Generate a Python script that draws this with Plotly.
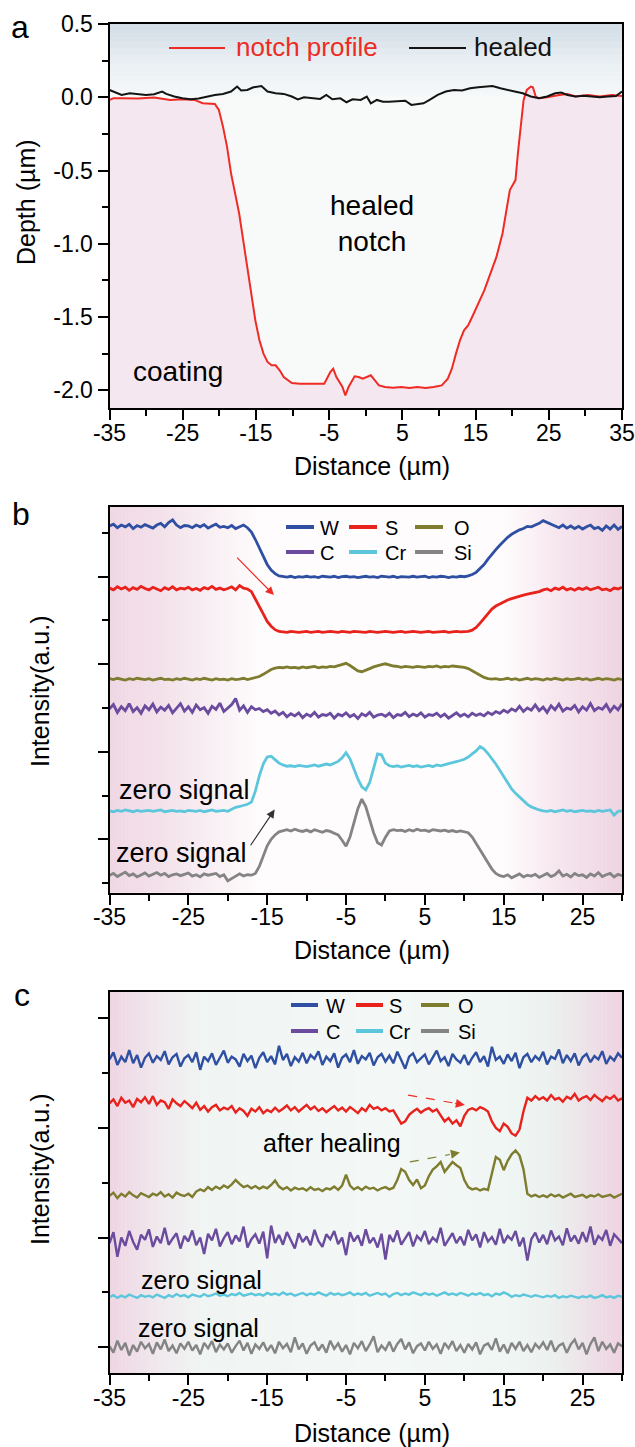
import plotly.graph_objects as go

FONT = "Liberation Sans, Arial, Helvetica, sans-serif"

# ======================= DATA =======================
# Panel a : depth profiles (Distance in um, Depth in um)
NOTCH_X = [-35.0, -34.45, -33.34, -31.13, -28.91, -26.70, -25.04, -23.38, -22.27, -20.61,
           -20.06, -19.50, -18.95, -18.40, -17.84, -17.29, -16.74, -16.18, -15.63, -15.08,
           -14.52, -13.97, -13.42, -12.86, -12.31, -11.76, -11.20, -10.10, -8.99, -7.88,
           -6.78, -5.67, -4.84, -4.45, -4.01, -3.18, -2.79, -2.35, -1.52, -0.97,
           -0.41, 0.14, 0.69, 1.25, 1.80, 2.63, 3.74, 4.85, 5.95, 7.06,
           8.17, 9.27, 10.38, 11.21, 11.76, 12.32, 12.87, 13.42, 13.98, 14.53,
           15.36, 16.19, 17.02, 17.85, 18.68, 19.23, 19.68, 20.07, 20.45, 20.78,
           21.17, 21.56, 22.00, 22.55, 22.83, 23.22, 23.66, 24.77, 26.43, 27.54,
           28.65, 30.31, 31.97, 33.62, 35.0]
NOTCH_Y = [-0.018, -0.007, -0.007, -0.009, -0.002, -0.018, -0.014, -0.018, -0.041, -0.046,
           -0.087, -0.200, -0.337, -0.519, -0.656, -0.793, -0.975, -1.157, -1.339, -1.522,
           -1.658, -1.749, -1.806, -1.829, -1.829, -1.863, -1.909, -1.950, -1.954, -1.954,
           -1.954, -1.954, -1.875, -1.852, -1.909, -1.977, -2.034, -1.977, -1.904, -1.909,
           -1.920, -1.909, -1.897, -1.932, -1.966, -1.977, -1.982, -1.977, -1.984, -1.977,
           -1.984, -1.977, -1.966, -1.920, -1.852, -1.749, -1.658, -1.590, -1.556, -1.499,
           -1.408, -1.317, -1.203, -1.089, -0.929, -0.770, -0.633, -0.599, -0.565, -0.383,
           -0.200, -0.018, 0.050, 0.073, 0.068, 0.005, -0.007, 0.0, 0.016, 0.023,
           0.005, 0.016, 0.005, 0.016, 0.009]
HEALED_X = [-35.0, -34.45, -33.34, -32.23, -31.13, -30.02, -28.91, -27.81, -27.25, -26.15,
            -25.04, -23.93, -22.83, -21.72, -20.61, -19.50, -18.40, -17.57, -17.01, -16.18,
            -15.35, -14.25, -13.42, -12.31, -11.20, -10.10, -9.27, -8.44, -7.33, -6.22,
            -5.39, -4.56, -3.46, -2.63, -1.80, -0.69, 0.14, 0.69, 1.52, 2.35,
            3.18, 4.29, 5.40, 6.23, 7.06, 7.89, 8.72, 9.83, 10.93, 12.04,
            13.15, 14.25, 15.36, 16.47, 17.30, 18.40, 19.23, 20.34, 21.45, 22.55,
            23.66, 24.77, 25.87, 26.70, 27.54, 28.65, 29.75, 30.86, 31.97, 33.07,
            34.18, 35.0]
HEALED_Y = [0.050, 0.039, 0.016, 0.027, 0.023, 0.016, 0.021, 0.039, 0.023, 0.005,
            -0.007, -0.014, -0.009, 0.005, 0.016, 0.023, 0.039, 0.073, 0.046, 0.050,
            0.068, 0.077, 0.039, 0.027, 0.023, 0.005, -0.014, 0.0, -0.007, -0.011,
            0.016, -0.014, -0.007, -0.034, -0.014, -0.018, 0.005, -0.041, -0.018, -0.030,
            -0.030, -0.025, -0.023, -0.052, -0.046, -0.041, -0.018, 0.016, 0.039, 0.050,
            0.046, 0.062, 0.068, 0.073, 0.077, 0.062, 0.050, 0.039, 0.027, 0.005,
            -0.007, 0.005, 0.027, 0.032, 0.016, 0.005, 0.011, 0.005, 0.0, 0.005,
            0.009, 0.039]

# Panels b and c : EDS line scans (stacked intensity, a.u.)
DISTANCE = [-35.0, -34.5, -34.0, -33.5, -33.0, -32.5, -32.0, -31.5, -31.0, -30.5,
            -30.0, -29.5, -29.0, -28.5, -28.0, -27.5, -27.0, -26.5, -26.0, -25.5,
            -25.0, -24.5, -24.0, -23.5, -23.0, -22.5, -22.0, -21.5, -21.0, -20.5,
            -20.0, -19.5, -19.0, -18.5, -18.0, -17.5, -17.0, -16.5, -16.0, -15.5,
            -15.0, -14.5, -14.0, -13.5, -13.0, -12.5, -12.0, -11.5, -11.0, -10.5,
            -10.0, -9.5, -9.0, -8.5, -8.0, -7.5, -7.0, -6.5, -6.0, -5.5,
            -5.0, -4.5, -4.0, -3.5, -3.0, -2.5, -2.0, -1.5, -1.0, -0.5,
            0.0, 0.5, 1.0, 1.5, 2.0, 2.5, 3.0, 3.5, 4.0, 4.5,
            5.0, 5.5, 6.0, 6.5, 7.0, 7.5, 8.0, 8.5, 9.0, 9.5,
            10.0, 10.5, 11.0, 11.5, 12.0, 12.5, 13.0, 13.5, 14.0, 14.5,
            15.0, 15.5, 16.0, 16.5, 17.0, 17.5, 18.0, 18.5, 19.0, 19.5,
            20.0, 20.5, 21.0, 21.5, 22.0, 22.5, 23.0, 23.5, 24.0, 24.5,
            25.0, 25.5, 26.0, 26.5, 27.0, 27.5, 28.0, 28.5, 29.0, 29.5, 30.0]

B_W = [8.16, 8.2, 8.12, 8.18, 8.14, 8.2, 8.1, 8.17, 8.13, 8.19,
       8.15, 8.11, 8.18, 8.22, 8.14, 8.24, 8.3, 8.18, 8.12, 8.17,
       8.16, 8.12, 8.18, 8.14, 8.19, 8.11, 8.16, 8.2, 8.13, 8.15,
       8.12, 8.17, 8.1, 8.14, 8.18, 8.12, 8.02, 7.85, 7.65, 7.45,
       7.28, 7.15, 7.07, 7.02, 7.0, 6.99, 7.01, 6.98, 7.0, 6.99,
       7.01, 6.99, 7.0, 6.98, 7.01, 7.0, 6.99, 7.01, 6.98, 7.0,
       7.01, 6.99, 7.0, 6.98, 7.0, 7.01, 6.99, 7.0, 6.98, 7.01,
       7.0, 6.99, 7.01, 6.98, 7.0, 7.0, 6.99, 7.01, 6.99, 7.0,
       7.01, 6.98, 7.0, 6.99, 7.01, 7.0, 6.98, 7.0, 6.99, 7.01,
       7.0, 7.02, 7.05, 7.1, 7.18, 7.28, 7.4, 7.52, 7.62, 7.72,
       7.82, 7.9, 7.97, 8.02, 8.07, 8.1, 8.15, 8.14, 8.18, 8.22,
       8.28, 8.24, 8.2, 8.17, 8.12, 8.18, 8.11, 8.16, 8.1, 8.15,
       8.09, 8.14, 8.18, 8.1, 8.13, 8.06, 8.16, 8.09, 8.18, 8.08, 8.15]
B_S = [6.74, 6.7, 6.77, 6.72, 6.76, 6.69, 6.75, 6.71, 6.78, 6.73,
       6.7, 6.76, 6.72, 6.68, 6.75, 6.71, 6.77, 6.7, 6.74, 6.72,
       6.76, 6.7, 6.73, 6.69, 6.75, 6.72, 6.78, 6.71, 6.74, 6.7,
       6.73, 6.77, 6.7, 6.8, 6.74, 6.72, 6.66, 6.5, 6.32, 6.15,
       5.98, 5.87, 5.79, 5.75, 5.74, 5.73, 5.75, 5.74, 5.73, 5.74,
       5.75, 5.73, 5.74, 5.75, 5.73, 5.74, 5.75, 5.74, 5.73, 5.75,
       5.74, 5.73, 5.75, 5.74, 5.74, 5.73, 5.75, 5.74, 5.73, 5.74,
       5.75, 5.74, 5.73, 5.74, 5.75, 5.73, 5.74, 5.75, 5.74, 5.73,
       5.74, 5.75, 5.73, 5.74, 5.74, 5.75, 5.73, 5.74, 5.75, 5.74,
       5.74, 5.75, 5.78, 5.84, 5.94, 6.05, 6.16, 6.26, 6.33, 6.38,
       6.43, 6.47, 6.5, 6.53, 6.55, 6.58, 6.6, 6.62, 6.64, 6.66,
       6.7, 6.72, 6.68, 6.74, 6.71, 6.76, 6.7, 6.73, 6.69, 6.74,
       6.71, 6.75, 6.7, 6.73, 6.76, 6.7, 6.72, 6.68, 6.74, 6.72, 6.76]
B_O = [4.67, 4.65, 4.68, 4.66, 4.64, 4.67, 4.65, 4.68, 4.66, 4.65,
       4.67, 4.64, 4.66, 4.68, 4.65, 4.66, 4.64, 4.67, 4.65, 4.68,
       4.66, 4.64, 4.67, 4.65, 4.68, 4.66, 4.64, 4.67, 4.65, 4.66,
       4.64, 4.67, 4.65, 4.66, 4.68, 4.65, 4.67, 4.69, 4.72, 4.77,
       4.83, 4.88, 4.91, 4.93, 4.92, 4.94, 4.92, 4.93, 4.91, 4.94,
       4.92, 4.93, 4.95, 4.92, 4.94, 4.93, 4.95, 4.94, 4.97, 4.99,
       5.02, 4.97, 4.9, 4.85, 4.83, 4.86, 4.9, 4.94, 4.97, 4.99,
       5.01, 4.98, 4.96, 4.95, 4.93, 4.95, 4.94, 4.93, 4.95, 4.94,
       4.93, 4.95, 4.94, 4.96, 4.93, 4.95, 4.94, 4.96, 4.95, 4.93,
       4.93, 4.9, 4.85, 4.8, 4.74, 4.7, 4.67, 4.66, 4.67, 4.65,
       4.66, 4.68, 4.65, 4.67, 4.64, 4.66, 4.68, 4.65, 4.67, 4.66,
       4.64, 4.67, 4.65, 4.68, 4.66, 4.64, 4.67, 4.65, 4.66, 4.68,
       4.65, 4.67, 4.64, 4.66, 4.68, 4.65, 4.67, 4.66, 4.64, 4.67, 4.65]
B_C = [3.98, 4.08, 3.9, 4.03, 3.94, 4.1, 3.92, 4.01, 3.88, 4.05,
       3.96, 4.09, 3.91, 4.02, 3.95, 4.06, 3.89, 4.0, 4.1, 3.93,
       4.03, 3.9, 4.07, 3.96, 4.01, 3.88, 4.04, 3.97, 4.11, 3.92,
       4.0, 4.08, 4.22, 3.95, 4.05, 3.9, 4.03, 3.96, 3.99, 3.92,
       3.96, 3.88, 3.93, 3.84, 3.9, 3.8, 3.87, 3.82, 3.89, 3.78,
       3.86, 3.81, 3.9, 3.79, 3.85, 3.83, 3.88, 3.77, 3.86, 3.82,
       3.89, 3.8, 3.85, 3.76, 3.87, 3.82, 3.9, 3.79, 3.84, 3.86,
       3.81, 3.88, 3.78, 3.85, 3.83, 3.9, 3.8, 3.86, 3.82, 3.89,
       3.79, 3.85, 3.83, 3.88, 3.8, 3.86, 3.77, 3.84, 3.89, 3.81,
       3.86, 3.8, 3.88, 3.83, 3.87, 3.82, 3.9, 3.85, 3.92, 3.88,
       3.95, 3.9, 3.98, 3.93, 4.04, 3.92, 4.0, 3.95, 4.07, 3.94,
       4.02, 3.9, 4.05, 3.96, 4.09, 3.93, 4.0, 3.97, 4.06, 3.91,
       4.03, 3.95, 4.1, 3.94, 4.01, 3.97, 4.08, 3.92, 4.04, 3.96, 4.1]
B_CR = [1.65, 1.63, 1.66, 1.64, 1.67, 1.65, 1.63, 1.66, 1.64, 1.65,
        1.66, 1.64, 1.65, 1.67, 1.63, 1.65, 1.66, 1.64, 1.65, 1.63,
        1.66, 1.65, 1.64, 1.66, 1.63, 1.65, 1.67, 1.64, 1.65, 1.66,
        1.64, 1.68, 1.73, 1.75, 1.77, 1.8, 1.85, 2.1, 2.45, 2.72,
        2.88, 2.9, 2.82, 2.74, 2.7, 2.67, 2.68, 2.66, 2.69, 2.67,
        2.66, 2.68, 2.7, 2.67, 2.69, 2.72, 2.7, 2.74, 2.78, 2.86,
        2.98, 2.84, 2.6, 2.38, 2.2, 2.13, 2.3, 2.65, 2.95, 2.93,
        2.74, 2.68, 2.66, 2.68, 2.65, 2.67, 2.69, 2.66, 2.68, 2.65,
        2.67, 2.69, 2.66, 2.7, 2.68, 2.71, 2.73, 2.75, 2.77, 2.8,
        2.83, 2.88, 2.95, 3.02, 3.12, 3.06, 2.96, 2.85, 2.72, 2.58,
        2.44, 2.3, 2.15, 2.05, 1.96, 1.88, 1.8, 1.74, 1.7, 1.67,
        1.65, 1.64, 1.66, 1.63, 1.65, 1.67, 1.64, 1.66, 1.63, 1.65,
        1.66, 1.64, 1.65, 1.63, 1.66, 1.64, 1.65, 1.67, 1.55, 1.64, 1.65]
B_SI = [0.18, 0.22, 0.15, 0.2, 0.25, 0.17, 0.21, 0.14, 0.19, 0.23,
        0.16, 0.2, 0.24, 0.18, 0.22, 0.15, 0.19, 0.21, 0.17, 0.2,
        0.23, 0.16, 0.19, 0.14, 0.21, 0.18, 0.2, 0.22, 0.15, 0.19,
        0.05, 0.11, 0.17, 0.21, 0.16, 0.19, 0.18, 0.22, 0.38, 0.62,
        0.85, 1.0, 1.1, 1.17, 1.2, 1.22, 1.19, 1.23, 1.2, 1.18,
        1.21, 1.17, 1.22, 1.19, 1.16, 1.2, 1.18, 1.14, 1.1, 0.98,
        0.84, 1.05, 1.35, 1.7, 1.92, 1.75, 1.45, 1.15, 0.92, 0.87,
        1.05, 1.19, 1.22, 1.2, 1.21, 1.18, 1.22, 1.19, 1.23, 1.2,
        1.21, 1.18, 1.22, 1.2, 1.19, 1.21, 1.18, 1.2, 1.17, 1.19,
        1.17, 1.15, 1.05, 0.9, 0.75, 0.6, 0.45, 0.32, 0.22, 0.17,
        0.15, 0.19, 0.12, 0.17, 0.21, 0.14, 0.18, 0.16, 0.2, 0.13,
        0.18, 0.22, 0.15, 0.19, 0.28, 0.16, 0.2, 0.14, 0.22, 0.17,
        0.19, 0.13, 0.21, 0.16, 0.24, 0.15, 0.19, 0.22, 0.14, 0.2, 0.17]

C_W = [5.25, 5.38, 5.15, 5.3, 5.2, 5.42, 5.18, 5.33, 5.1, 5.28,
       5.36, 5.19, 5.31, 5.24, 5.4, 5.16, 5.29, 5.35, 5.12, 5.27,
       5.33, 5.2, 5.38, 5.06, 5.3, 5.22, 5.36, 5.15, 5.28, 5.41,
       5.19, 5.3, 5.25, 5.12, 5.35, 5.22, 5.32, 5.09, 5.28, 5.38,
       5.2, 5.31, 5.16, 5.5, 5.24, 5.35, 5.13, 5.29, 5.21, 5.37,
       5.18, 5.33, 5.26, 5.4, 5.15, 5.3, 5.22, 5.36, 5.1, 5.28,
       5.34, 5.2, 5.42, 5.17, 5.31, 5.25, 5.37, 5.14, 5.29, 5.35,
       5.21, 5.32, 5.18, 5.39, 5.24, 5.08, 5.3, 5.36, 5.2, 5.27,
       5.34, 5.16, 5.3, 5.41, 5.22, 5.29, 5.13, 5.35, 5.25, 5.19,
       5.33, 5.15, 5.28, 5.38, 5.2, 5.31, 5.12, 5.48, 5.24, 5.3,
       5.17, 5.34, 5.22, 5.37, 5.09, 5.29, 5.35, 5.2, 5.31, 5.24,
       5.39, 5.16, 5.3, 5.26, 5.43, 5.18, 5.33, 5.22, 5.36, 5.14,
       5.29, 5.35, 5.2, 5.31, 5.25, 5.4, 5.17, 5.3, 5.23, 5.36, 5.28]
C_S = [4.45, 4.52, 4.4, 4.55, 4.46, 4.5, 4.38, 4.53, 4.47, 4.56,
       4.44, 4.58, 4.42, 4.5, 4.47, 4.35, 4.52, 4.45, 4.4, 4.49,
       4.43, 4.36, 4.46, 4.33, 4.4, 4.3, 4.38, 4.42, 4.32, 4.37,
       4.34, 4.4, 4.28, 4.36, 4.31, 4.22, 4.35, 4.3, 4.38, 4.27,
       4.33, 4.29, 4.37, 4.3, 4.35, 4.41, 4.32, 4.38, 4.3, 4.36,
       4.42, 4.34, 4.39, 4.31, 4.36, 4.29, 4.35, 4.4, 4.32, 4.37,
       4.3, 4.38, 4.33, 4.27, 4.36, 4.31, 4.42, 4.35, 4.38, 4.32,
       4.36, 4.3, 4.32, 4.2, 4.08, 4.12, 4.24, 4.3, 4.35, 4.28,
       4.33, 4.36, 4.3, 4.34, 4.22, 4.12, 4.18, 4.08, 4.14, 4.03,
       4.22, 4.33, 4.36, 4.32, 4.38, 4.35, 4.3, 4.12, 4.0, 3.94,
       4.08, 4.02, 3.9, 3.86, 3.97, 4.3, 4.55, 4.5, 4.58, 4.52,
       4.56, 4.5, 4.6, 4.52, 4.55, 4.48, 4.57, 4.53, 4.62, 4.5,
       4.55, 4.58, 4.51, 4.6, 4.54, 4.49, 4.57, 4.53, 4.59, 4.5, 4.54]
C_O = [2.76, 2.82, 2.72, 2.8, 2.75, 2.83, 2.77, 2.73, 2.81, 2.78,
       2.74, 2.8, 2.77, 2.83, 2.75, 2.79, 2.73, 2.82, 2.78, 2.76,
       2.8, 2.74, 2.84, 2.88, 2.85, 2.92, 2.87, 2.93, 2.89, 2.95,
       2.91, 2.97, 3.05, 2.98, 2.92, 2.95, 2.9, 2.94, 2.89, 2.93,
       2.9, 2.96, 3.04, 2.93, 2.88, 2.92, 2.86, 2.91, 2.88, 2.9,
       2.86, 2.92, 2.87, 2.89, 2.85, 2.9, 2.88, 2.93, 2.87, 2.95,
       3.15, 2.95, 2.88, 2.92, 2.87, 2.93, 2.89, 2.91, 2.86, 2.9,
       2.92, 2.88, 2.91, 3.05, 3.25, 3.2, 3.05, 2.96, 3.06, 2.9,
       2.95, 3.12, 3.24, 3.3, 3.38, 3.2, 3.3, 3.38, 3.32, 3.27,
       3.05, 2.92, 2.88, 2.9, 2.86, 2.89, 2.87, 3.2, 3.47, 3.42,
       3.23, 3.4, 3.52, 3.59, 3.5, 3.25, 2.8, 2.75, 2.78, 2.74,
       2.77, 2.74, 2.79, 2.75, 2.78, 2.73, 2.77, 2.8, 2.74, 2.76,
       2.78, 2.73, 2.77, 2.75, 2.79, 2.74, 2.76, 2.78, 2.73, 2.77, 2.8]
C_C = [1.9, 2.1, 1.65, 2.0, 1.85, 2.12, 1.92, 1.78, 2.05, 1.96,
       2.15, 1.83, 2.02, 1.9, 2.18, 1.87, 1.98, 2.08, 1.8, 2.03,
       1.93, 2.13, 1.86, 2.0, 1.7, 2.07, 1.95, 2.16, 1.84, 1.99,
       2.1, 1.88, 2.04, 1.93, 2.2, 1.82, 1.97, 2.06, 1.89, 2.11,
       1.62, 2.22, 1.9, 2.05, 1.87, 2.1, 1.95, 1.8, 2.08, 1.92,
       2.02, 1.86, 2.14, 1.94, 1.83, 2.06, 1.97, 2.12, 1.88, 2.0,
       1.68, 2.1, 1.93, 2.04, 1.85, 2.15, 1.9, 2.0, 1.82, 2.07,
       1.6, 2.05, 1.92, 2.13, 1.87, 1.98, 2.1, 1.84, 2.03, 1.95,
       2.12, 1.88, 2.0, 1.93, 2.18, 1.85, 1.97, 2.08, 1.9, 2.02,
       1.86, 2.14, 1.95, 2.06, 1.82, 2.1, 1.93, 2.01, 1.87, 2.16,
       1.9, 2.03, 1.96, 2.12, 1.84, 2.0, 1.58, 1.97, 2.09, 1.91,
       2.05, 1.88, 2.13, 1.95, 2.02, 1.86, 2.17, 1.93, 2.04, 1.89,
       2.1, 1.92, 2.2, 1.87, 2.03, 1.96, 2.14, 1.85, 2.06, 1.98, 1.9]
C_CR = [0.92, 0.95, 0.9, 0.94, 0.91, 0.96, 0.93, 0.9, 0.95, 0.92,
        0.94, 0.91, 0.96, 0.93, 0.9, 0.95, 0.92, 0.97, 0.93, 0.95,
        0.91, 0.96, 0.94, 0.92, 0.97, 0.93, 0.95, 0.98, 0.94, 0.96,
        0.93, 0.97, 0.95, 0.99, 0.94, 0.96, 0.98, 0.95, 0.97, 0.94,
        0.99, 0.96, 0.98, 0.95, 1.0, 0.96, 0.98, 0.94, 0.97, 0.99,
        0.95, 0.98, 0.96, 1.0, 0.97, 0.94, 0.99, 0.96, 0.98, 0.95,
        0.97, 1.0, 0.95, 0.98, 0.96, 0.99, 0.94, 0.97, 0.99, 0.96,
        0.98, 0.92, 0.97, 0.99, 0.95, 0.98, 0.96, 1.0, 0.97, 0.95,
        0.99, 0.96, 0.98, 0.94, 0.97, 1.0, 0.96, 0.98, 0.95, 0.99,
        0.97, 0.94, 0.98, 0.96, 0.99, 0.95, 0.97, 0.93, 0.98, 0.96,
        1.0, 0.97, 0.92, 0.95, 0.93, 0.96, 0.94, 0.92, 0.95, 0.93,
        0.91, 0.94, 0.92, 0.95, 0.9, 0.93, 0.91, 0.94, 0.92, 0.9,
        0.93, 0.91, 0.94, 0.9, 0.92, 0.95, 0.91, 0.93, 0.9, 0.94, 0.92]
C_SI = [0.02, -0.1, 0.12, -0.05, 0.08, -0.15, 0.04, -0.08, 0.1, -0.02,
        0.06, -0.12, 0.09, -0.04, 0.14, -0.07, 0.03, -0.11, 0.07, -0.03,
        0.1, -0.06, 0.04, -0.13, 0.08, -0.02, 0.11, -0.09, 0.05, -0.04,
        0.07, -0.1, 0.02, 0.12, -0.06, 0.08, -0.12, 0.05, -0.03, 0.09,
        -0.07, 0.04, -0.11, 0.1, -0.02, 0.06, -0.09, 0.18, -0.04, 0.07,
        -0.12, 0.03, 0.09, -0.06, 0.05, -0.1, 0.12, -0.03, 0.07, -0.08,
        0.04, -0.13, 0.08, -0.02, 0.11, -0.07, 0.05, 0.2, -0.09, 0.03,
        -0.05, 0.1, -0.08, 0.06, 0.15, -0.04, 0.09, -0.11, 0.02, 0.07,
        -0.06, 0.1, -0.03, 0.05, -0.12, 0.08, -0.02, 0.11, -0.07, 0.04,
        -0.1, 0.06, -0.04, 0.09, -0.13, 0.03, 0.07, -0.05, 0.16, -0.08,
        0.05, -0.11, 0.08, -0.03, 0.1, -0.07, 0.04, -0.09, 0.06, -0.02,
        0.09, -0.05, 0.12, -0.08, 0.03, 0.07, -0.1, 0.05, 0.14, -0.04,
        0.08, -0.13, 0.06, 0.18, -0.07, 0.1, -0.03, 0.05, -0.1, 0.07, 0.02]

ELEMENTS = ["W", "S", "O", "C", "Cr", "Si"]
B_SERIES = [B_W, B_S, B_O, B_C, B_CR, B_SI]
C_SERIES = [C_W, C_S, C_O, C_C, C_CR, C_SI]

A_XTICKS = [-35, -25, -15, -5, 5, 15, 25, 35]
A_XTICKTEXT = ["-35", "-25", "-15", "-5", "5", "15", "25", "35"]
A_YTICKS = [0.5, 0.0, -0.5, -1.0, -1.5, -2.0]
A_YTICKTEXT = ["0.5", "0.0", "-0.5", "-1.0", "-1.5", "-2.0"]
BC_XTICKS = [-35, -25, -15, -5, 5, 15, 25]
BC_XTICKTEXT = ["-35", "-25", "-15", "-5", "5", "15", "25"]

# ======================= STYLE =======================
EL_COLORS = {"W": "#2f4fa2", "S": "#e8221c", "O": "#7e7c2e",
             "C": "#6a4b9e", "Cr": "#5cc6dc", "Si": "#848484"}
RED = "#ee2b24"
BLACK = "#141414"
FIG_W, FIG_H = 635, 1447
XDOM = [109.5 / FIG_W, 622 / FIG_W]


def py(px):
    return 1 - px / FIG_H


def px_x(px):
    return px / FIG_W


def mix(stops, v):
    for (p0, c0), (p1, c1) in zip(stops, stops[1:]):
        if p0 <= v <= p1:
            t = (v - p0) / (p1 - p0) if p1 > p0 else 0
            return "rgb(%d,%d,%d)" % tuple(round(a + (b - a) * t) for a, b in zip(c0, c1))
    return "rgb(%d,%d,%d)" % stops[-1][1]


fig = go.Figure()
shapes = []
annotations = []

# ---------- panel a backgrounds ----------
shapes.append(dict(type="rect", xref="x domain", yref="y", x0=0, x1=1, y0=-2.2, y1=0,
                   fillcolor="#f8fafa", line=dict(width=0), layer="below"))
top_stops = [(0.0, (247, 249, 250)), (0.25, (232, 238, 242)), (0.5, (209, 220, 229))]
n = 30
for k in range(n):
    y0 = 0.5 * k / n
    y1 = 0.5 * (k + 1) / n + 0.002
    shapes.append(dict(type="rect", xref="x domain", yref="y", x0=0, x1=1, y0=y0, y1=min(y1, 0.5),
                       fillcolor=mix(top_stops, (y0 + y1) / 2), line=dict(width=0), layer="below"))

# ---------- panel b / c backgrounds ----------
b_stops = [(-35, (239, 215, 228)), (-27, (244, 228, 236)), (-16, (254, 252, 253)),
           (15, (254, 252, 253)), (22, (246, 230, 238)), (30, (238, 211, 225))]
c_stops = [(-35, (238, 213, 227)), (-29, (240, 232, 237)), (-23, (240, 245, 243)),
           (0, (243, 248, 246)), (15, (240, 246, 243)), (21, (236, 241, 239)),
           (25, (237, 228, 233)), (30, (238, 210, 224))]
for xref, yref, stops in (("x2", "y2 domain", b_stops), ("x3", "y3 domain", c_stops)):
    steps = 130
    for k in range(steps):
        x0 = -35 + 65 * k / steps
        x1 = -35 + 65 * (k + 1) / steps + 0.05
        shapes.append(dict(type="rect", xref=xref, yref=yref, x0=x0, x1=min(x1, 30), y0=0, y1=1,
                           fillcolor=mix(stops, (x0 + x1) / 2), line=dict(width=0), layer="below"))

# ---------- panel a traces ----------
fig.add_trace(go.Scatter(x=[-35, 35], y=[-2.2, -2.2], mode="lines", line=dict(width=0),
                         hoverinfo="skip", showlegend=False, xaxis="x", yaxis="y"))
fig.add_trace(go.Scatter(x=NOTCH_X, y=NOTCH_Y, mode="lines", line=dict(width=0),
                         fill="tonexty", fillcolor="#f5e7ef", hoverinfo="skip",
                         showlegend=False, xaxis="x", yaxis="y"))
fig.add_trace(go.Scatter(x=NOTCH_X, y=NOTCH_Y, mode="lines", name="notch profile",
                         line=dict(color=RED, width=2), showlegend=False, xaxis="x", yaxis="y"))
fig.add_trace(go.Scatter(x=HEALED_X, y=HEALED_Y, mode="lines", name="healed",
                         line=dict(color=BLACK, width=2), showlegend=False, xaxis="x", yaxis="y"))

# ---------- panel b / c traces ----------
for el, ys in zip(ELEMENTS, B_SERIES):
    fig.add_trace(go.Scatter(x=DISTANCE, y=ys, mode="lines", name=el,
                             line=dict(color=EL_COLORS[el], width=2.8),
                             showlegend=False, xaxis="x2", yaxis="y2"))
for el, ys in zip(ELEMENTS, C_SERIES):
    fig.add_trace(go.Scatter(x=DISTANCE, y=ys, mode="lines", name=el,
                             line=dict(color=EL_COLORS[el], width=2.4),
                             showlegend=False, xaxis="x3", yaxis="y3"))

# ---------- legends (manual) ----------
for (x0, x1, tx, label, col) in ((169, 225, 234, "notch profile", RED),
                                  (409, 466, 472, "healed", BLACK)):
    shapes.append(dict(type="line", xref="paper", yref="paper", x0=px_x(x0), x1=px_x(x1),
                       y0=py(48), y1=py(48), line=dict(color=col, width=2)))
    annotations.append(dict(xref="paper", yref="paper", x=px_x(tx), y=py(47), text=label,
                            showarrow=False, xanchor="left", yanchor="middle",
                            font=dict(size=26, color=col, family=FONT)))

leg_b = dict(rows=(527, 552), cols=((286, 314, 318), (349, 377, 383), (415, 443, 452)))
leg_c = dict(rows=(1005, 1031), cols=((291, 318, 324), (356, 383, 387), (421, 449, 456)))
for leg in (leg_b, leg_c):
    for idx, el in enumerate(ELEMENTS):
        r, c = divmod(idx, 3)
        x0, x1, tx = leg["cols"][c]
        yy = leg["rows"][r]
        shapes.append(dict(type="line", xref="paper", yref="paper", x0=px_x(x0), x1=px_x(x1),
                           y0=py(yy), y1=py(yy), line=dict(color=EL_COLORS[el], width=4)))
        annotations.append(dict(xref="paper", yref="paper", x=px_x(tx), y=py(yy + 1), text=el,
                                showarrow=False, xanchor="left", yanchor="middle",
                                font=dict(size=20, color="black", family=FONT)))


def txt(x, y, s, size, xref="paper", yref="paper", xanchor="center", angle=0, color="black"):
    annotations.append(dict(xref=xref, yref=yref, x=x, y=y, text=s, showarrow=False,
                            xanchor=xanchor, yanchor="middle", textangle=angle,
                            font=dict(size=size, color=color, family=FONT)))


# panel letters
txt(px_x(20), py(27), "a", 32)
txt(px_x(21), py(514), "b", 32)
txt(px_x(22), py(995), "c", 32)

# axis titles
txt(px_x(26), py(202), "Depth (µm)", 25, angle=-90)
txt(px_x(40), py(692), "Intensity(a.u.)", 25, angle=-90)
txt(px_x(40), py(1170), "Intensity(a.u.)", 25, angle=-90)
txt(px_x(372), py(466), "Distance (µm)", 25)
txt(px_x(372), py(950), "Distance (µm)", 25)
txt(px_x(372), py(1433), "Distance (µm)", 25)

# panel a
txt(0.9, -0.86, "healed<br>notch", 28, xref="x", yref="y")
txt(-32.0, -1.87, "coating", 28, xref="x", yref="y", xanchor="left")

# panel b
txt(-34.1, 2.13, "zero signal", 27, xref="x2", yref="y2", xanchor="left")
txt(-34.4, 0.69, "zero signal", 27, xref="x2", yref="y2", xanchor="left")
annotations.append(dict(xref="x2", yref="y2", axref="x2", ayref="y2", x=-14.14, y=6.58,
                        ax=-19.0, ay=7.47, text="", showarrow=True, arrowhead=2,
                        arrowsize=1.4, arrowwidth=1.2, arrowcolor=RED))
annotations.append(dict(xref="x2", yref="y2", axref="x2", ayref="y2", x=-14.05, y=1.68,
                        ax=-17.23, ay=0.83, text="", showarrow=True, arrowhead=2,
                        arrowsize=1.4, arrowwidth=1.2, arrowcolor="#333333"))

# panel c
txt(-31.2, 1.22, "zero signal", 25, xref="x3", yref="y3", xanchor="left")
txt(-31.7, 0.35, "zero signal", 25, xref="x3", yref="y3", xanchor="left")
txt(-15.8, 3.72, "after healing", 25, xref="x3", yref="y3", xanchor="left")
for (xs, ys_, xe, ye, col) in ((2.87, 4.6, 10.07, 4.42, RED), (3.09, 3.38, 9.43, 3.55, "#7e7c2e")):
    xm = xs + (xe - xs) * 0.8
    ym = ys_ + (ye - ys_) * 0.8
    shapes.append(dict(type="line", xref="x3", yref="y3", x0=xs, y0=ys_, x1=xm, y1=ym,
                       line=dict(color=col, width=1.2, dash="dash")))
    annotations.append(dict(xref="x3", yref="y3", axref="x3", ayref="y3", x=xe, y=ye,
                            ax=xm, ay=ym, text="", showarrow=True, arrowhead=2,
                            arrowsize=1.5, arrowwidth=1.2, arrowcolor=col))

# ---------- axes ----------
common = dict(showline=True, mirror=True, linecolor="black", linewidth=2, showgrid=False,
              zeroline=False, ticks="outside", tickwidth=2, ticklen=10, tickcolor="black",
              automargin=False, tickfont=dict(size=23, color="black", family=FONT))
minor_common = dict(ticklen=6, tickwidth=2, ticks="outside", tickcolor="black", showgrid=False)

fig.update_layout(
    template="none",
    width=FIG_W, height=FIG_H, margin=dict(l=0, r=0, t=0, b=0, pad=0, autoexpand=False),
    paper_bgcolor="white", plot_bgcolor="white", showlegend=False,
    font=dict(family=FONT, color="black"),
    xaxis=dict(domain=XDOM, anchor="y", range=[-35, 35], tickvals=A_XTICKS, ticktext=A_XTICKTEXT,
               ticklabelstandoff=-7,
               minor=dict(tick0=-35, dtick=5, **minor_common), **common),
    yaxis=dict(domain=[py(408), py(24)], anchor="x", range=[-2.12, 0.5],
               tickvals=A_YTICKS, ticktext=A_YTICKTEXT,
               minor=dict(tick0=0, dtick=0.25, **minor_common), **common),
    xaxis2=dict(domain=XDOM, anchor="y2", range=[-35, 30], tickvals=BC_XTICKS, ticktext=BC_XTICKTEXT,
                ticklabelstandoff=-7,
                minor=dict(tick0=-35, dtick=5, **minor_common), **common),
    yaxis2=dict(domain=[py(892.7), py(506.7)], anchor="x2", range=[-0.22, 8.6],
                tickvals=[1, 3, 5, 7], showticklabels=False,
                minor=dict(tick0=0, dtick=1, **minor_common), **common),
    xaxis3=dict(domain=XDOM, anchor="y3", range=[-35, 30], tickvals=BC_XTICKS, ticktext=BC_XTICKTEXT,
                ticklabelstandoff=-7,
                minor=dict(tick0=-35, dtick=5, **minor_common), **common),
    yaxis3=dict(domain=[py(1373), py(992)], anchor="x3", range=[-0.47, 6.48],
                tickvals=[0, 2, 4, 6], showticklabels=False,
                minor=dict(tick0=1, dtick=1, **minor_common), **common),
    shapes=shapes,
    annotations=annotations,
)

# remove the default page margin so the figure sits at the window's top-left corner
fig.write_html("out.html", config={"displayModeBar": False},
               post_script="document.body.style.margin='0px';document.body.style.padding='0px';")
